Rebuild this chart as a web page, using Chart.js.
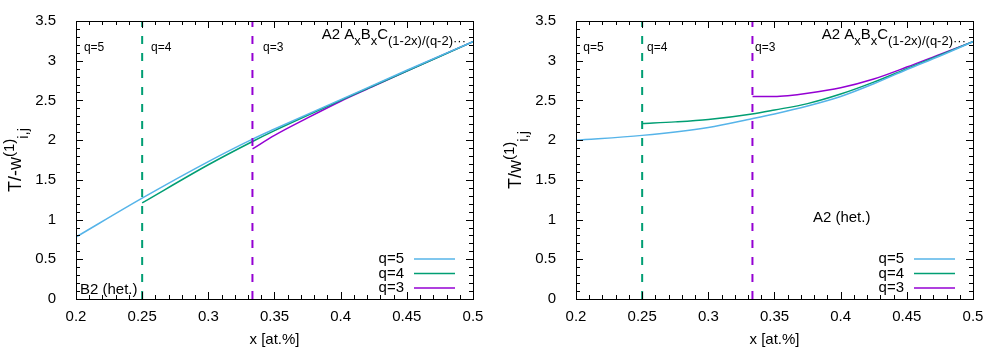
<!DOCTYPE html>
<html>
<head>
<meta charset="utf-8">
<script src="https://cdn.jsdelivr.net/npm/chart.js@4.4.1/dist/chart.umd.min.js"></script>
<style>
  body { margin: 0; background: #fff; }
  .wrap { display: flex; width: 1000px; height: 350px; }
  canvas { display: block; }
</style>
</head>
<body>
<div class="wrap">
  <canvas id="left" width="500" height="350"></canvas>
  <canvas id="right" width="500" height="350"></canvas>
</div>
<script>
const seriesLabels = ["q=5", "q=4", "q=3"];
const seriesColors = ["#56b4e9", "#009e73", "#9400d3"];
const boundaryX = [0.2, 0.25, 1 / 3];
const xTicks = [0.2, 0.25, 0.3, 0.35, 0.4, 0.45, 0.5];
const yTicks = [0, 0.5, 1, 1.5, 2, 2.5, 3, 3.5];

// left panel: B2 (het.)
const leftQ5 = [[0.2, 0.78], [0.25, 1.27], [0.3, 1.73], [0.333, 2.01], [0.35, 2.14], [0.4, 2.51], [0.45, 2.88], [0.5, 3.24]];
const leftQ4 = [[0.25, 1.21], [0.3, 1.69], [0.333, 1.98], [0.35, 2.12], [0.4, 2.50], [0.45, 2.87], [0.5, 3.24]];
const leftQ3 = [[0.3334, 1.89], [0.35, 2.06], [0.375, 2.28], [0.4, 2.49], [0.425, 2.68], [0.45, 2.87], [0.5, 3.24]];

// right panel: A2 (het.)
const rightQ5 = [[0.2, 2.00], [0.25, 2.06], [0.3, 2.16], [0.333, 2.27], [0.35, 2.33], [0.375, 2.43], [0.4, 2.55], [0.425, 2.71], [0.45, 2.89], [0.475, 3.06], [0.5, 3.24]];
const rightQ4 = [[0.25, 2.21], [0.275, 2.23], [0.3, 2.26], [0.333, 2.33], [0.35, 2.38], [0.375, 2.46], [0.4, 2.58], [0.425, 2.73], [0.45, 2.90], [0.475, 3.07], [0.5, 3.24]];
const rightQ3 = [[0.3334, 2.55], [0.35, 2.55], [0.36, 2.56], [0.375, 2.59], [0.4, 2.66], [0.425, 2.77], [0.45, 2.92], [0.475, 3.08], [0.5, 3.24]];

const FONT = "'Liberation Sans', Arial, sans-serif";

// parts: s=0 normal, s=1 subscript, s=-1 superscript
function richWidth(ctx, parts, size, small) {
  let w = 0;
  for (const p of parts) {
    ctx.font = (p.s ? small : size) + "px " + FONT;
    w += ctx.measureText(p.t).width;
  }
  return w;
}
function drawRich(ctx, parts, x, y, size, small, shift) {
  for (const p of parts) {
    ctx.font = (p.s ? small : size) + "px " + FONT;
    const dy = p.s === 1 ? shift : p.s === -1 ? -shift : 0;
    ctx.fillText(p.t, x, y + dy);
    x += ctx.measureText(p.t).width;
  }
}

const titleParts = [
  { t: "A2 A", s: 0 }, { t: "x", s: 1 }, { t: "B", s: 0 }, { t: "x", s: 1 },
  { t: "C", s: 0 }, { t: "(1-2x)/(q-2)\u00b7\u00b7\u00b7", s: 1 }
];

function toPts(arr) {
  return arr.map(p => ({ x: p[0], y: p[1] }));
}

function makeChart(id, curves, yTitle, notes) {
  const datasets = [];
  // vertical dashed limits
  boundaryX.forEach((bx, i) => {
    datasets.push({
      label: "",
      data: [{ x: bx, y: 0 }, { x: bx, y: 3.5 }],
      borderColor: seriesColors[i],
      borderWidth: 2,
      borderDash: [8, 9],
      pointRadius: 0,
      fill: false
    });
  });
  curves.forEach((c, i) => {
    datasets.push({
      label: seriesLabels[i],
      data: toPts(c),
      borderColor: seriesColors[i],
      borderWidth: 1.5,
      pointRadius: 0,
      fill: false,
      cubicInterpolationMode: "monotone"
    });
  });

  const decor = {
    id: "decor",
    afterDatasetsDraw(chart) {
      const { ctx, chartArea: a, scales } = chart;
      const xs = scales.x, ys = scales.y;
      ctx.save();
      ctx.strokeStyle = "#000";
      ctx.lineWidth = 1;
      // ticks
      ctx.beginPath();
      for (let k = 0; k <= 30; k++) {
        const px = Math.round(xs.getPixelForValue(0.2 + k * 0.01)) + 0.5;
        const len = k % 5 === 0 ? 7 : 4;
        ctx.moveTo(px, a.bottom); ctx.lineTo(px, a.bottom - len);
        ctx.moveTo(px, a.top); ctx.lineTo(px, a.top + len);
      }
      for (let k = 0; k <= 35; k++) {
        const py = Math.round(ys.getPixelForValue(k * 0.1)) + 0.5;
        const len = k % 5 === 0 ? 7 : 4;
        ctx.moveTo(a.left, py); ctx.lineTo(a.left + len, py);
        ctx.moveTo(a.right, py); ctx.lineTo(a.right - len, py);
      }
      ctx.stroke();
      ctx.strokeRect(Math.round(a.left) + 0.5, Math.round(a.top) + 0.5,
        Math.round(a.right - a.left), Math.round(a.bottom - a.top));

      ctx.fillStyle = "#000";
      ctx.textBaseline = "alphabetic";
      // title in top right
      const tw = richWidth(ctx, titleParts, 15, 13);
      drawRich(ctx, titleParts, a.right - 7 - tw, a.top + 18, 15, 13, 6);

      // q labels next to the limits
      ctx.textBaseline = "middle";
      ctx.textAlign = "left";
      notes.q.forEach((nx, i) => {
        ctx.font = "12px " + FONT;
        ctx.fillText(seriesLabels[i], xs.getPixelForValue(nx), ys.getPixelForValue(3.16));
      });
      // phase label
      ctx.textBaseline = "alphabetic";
      ctx.font = "15px " + FONT;
      ctx.fillText(notes.phase[2], xs.getPixelForValue(notes.phase[0]), ys.getPixelForValue(notes.phase[1]));

      // legend
      const rows = [a.bottom - 40, a.bottom - 25.5, a.bottom - 11];
      ctx.textAlign = "right";
      ctx.textBaseline = "middle";
      seriesLabels.forEach((lab, i) => {
        ctx.font = "15px " + FONT;
        ctx.fillText(lab, a.right - 69, rows[i]);
        ctx.beginPath();
        ctx.strokeStyle = seriesColors[i];
        ctx.lineWidth = 1.5;
        ctx.moveTo(a.right - 59, rows[i]);
        ctx.lineTo(a.right - 18, rows[i]);
        ctx.stroke();
      });

      // y axis title, rotated
      ctx.textAlign = "left";
      ctx.textBaseline = "alphabetic";
      ctx.translate(21, (a.top + a.bottom) / 2);
      ctx.rotate(-Math.PI / 2);
      const yw = richWidth(ctx, yTitle, 18, 15);
      drawRich(ctx, yTitle, -yw / 2, 0, 18, 15, 7);
      ctx.restore();
    }
  };

  return new Chart(document.getElementById(id), {
    type: "line",
    data: { datasets },
    options: {
      responsive: false,
      animation: false,
      devicePixelRatio: 1,
      layout: { padding: { top: 19, right: 27, left: 0, bottom: 0 } },
      plugins: { legend: { display: false }, tooltip: { enabled: false } },
      scales: {
        x: {
          type: "linear",
          min: 0.2,
          max: 0.5,
          afterBuildTicks: s => { s.ticks = xTicks.map(v => ({ value: v })); },
          afterFit: s => { s.height = 51; },
          grid: { display: false },
          border: { display: false },
          ticks: {
            color: "#000",
            padding: 1,
            font: { family: FONT, size: 15 },
            callback: v => String(+v.toFixed(2))
          },
          title: {
            display: true,
            text: "x [at.%]",
            color: "#000",
            font: { family: FONT, size: 15 },
            padding: { top: 0, bottom: 1 }
          }
        },
        y: {
          type: "linear",
          min: 0,
          max: 3.5,
          afterBuildTicks: s => { s.ticks = yTicks.map(v => ({ value: v })); },
          afterFit: s => { s.width = 76; },
          grid: { display: false },
          border: { display: false },
          ticks: {
            color: "#000",
            padding: 12,
            font: { family: FONT, size: 15 },
            callback: v => String(+v.toFixed(1))
          }
        }
      }
    },
    plugins: [decor]
  });
}

makeChart("left", [leftQ5, leftQ4, leftQ3],
  [{ t: "T/-w", s: 0 }, { t: "(1)", s: -1 }, { t: "i,j", s: 1 }],
  { q: [0.206, 0.2567, 0.3413], phase: [0.203, 0.06, "B2 (het.)"] });

makeChart("right", [rightQ5, rightQ4, rightQ3],
  [{ t: "T/w", s: 0 }, { t: "(1)", s: -1 }, { t: "i,j", s: 1 }],
  { q: [0.2055, 0.2537, 0.3353], phase: [0.379, 0.97, "A2 (het.)"] });
</script>
</body>
</html>
